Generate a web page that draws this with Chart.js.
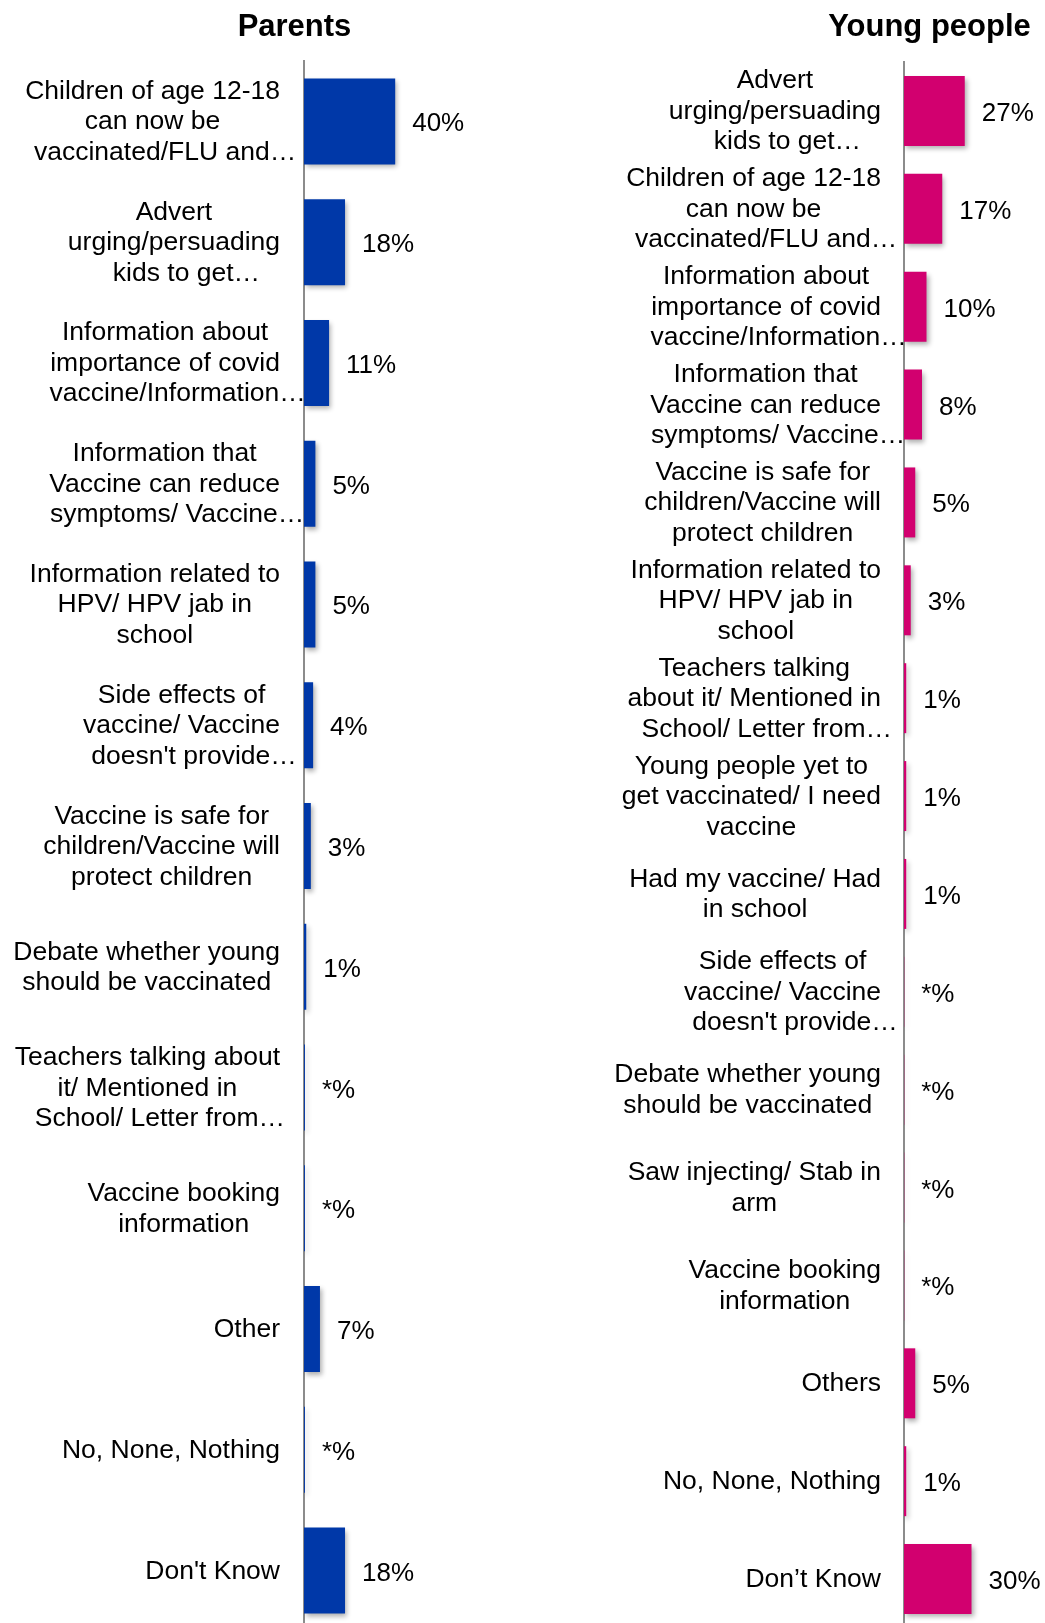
<!DOCTYPE html>
<html>
<head>
<meta charset="utf-8">
<title>Parents and young people</title>
<script src="https://cdn.jsdelivr.net/npm/chart.js@4.4.1/dist/chart.umd.min.js"></script>
<style>
  html, body { margin: 0; padding: 0; background: #fff; overflow: hidden; width: 1045px; height: 1623px; }
  canvas { position: absolute; top: 0; }
  #parents { left: 0; }
  #young { left: 589px; }
</style>
</head>
<body>
<canvas id="parents" width="589" height="1631"></canvas>
<canvas id="young" width="456" height="1628"></canvas>
<script>
// ---- Parents ----
const parentCategories = [
  ["Children of age 12-18", "can now be", "vaccinated/FLU and…"],
  ["Advert", "urging/persuading", "kids to get…"],
  ["Information about", "importance of covid", "vaccine/Information…"],
  ["Information that", "Vaccine can reduce", "symptoms/ Vaccine…"],
  ["Information related to", "HPV/ HPV jab in", "school"],
  ["Side effects of", "vaccine/ Vaccine", "doesn't provide…"],
  ["Vaccine is safe for", "children/Vaccine will", "protect children"],
  ["Debate whether young", "should be vaccinated"],
  ["Teachers talking about", "it/ Mentioned in", "School/ Letter from…"],
  ["Vaccine booking", "information"],
  ["Other"],
  ["No, None, Nothing"],
  ["Don't Know"]
];
const parentValues = [40, 18, 11, 5, 5, 4, 3, 1, 0.4, 0.4, 7, 0.4, 18];
const parentValueLabels = ["40%", "18%", "11%", "5%", "5%", "4%", "3%", "1%", "*%", "*%", "7%", "*%", "18%"];

// ---- Young people ----
const youngCategories = [
  ["Advert", "urging/persuading", "kids to get…"],
  ["Children of age 12-18", "can now be", "vaccinated/FLU and…"],
  ["Information about", "importance of covid", "vaccine/Information…"],
  ["Information that", "Vaccine can reduce", "symptoms/ Vaccine…"],
  ["Vaccine is safe for", "children/Vaccine will", "protect children"],
  ["Information related to", "HPV/ HPV jab in", "school"],
  ["Teachers talking", "about it/ Mentioned in", "School/ Letter from…"],
  ["Young people yet to", "get vaccinated/ I need", "vaccine"],
  ["Had my vaccine/ Had", "in school"],
  ["Side effects of", "vaccine/ Vaccine", "doesn't provide…"],
  ["Debate whether young", "should be vaccinated"],
  ["Saw injecting/ Stab in", "arm"],
  ["Vaccine booking", "information"],
  ["Others"],
  ["No, None, Nothing"],
  ["Don’t Know"]
];
const youngValues = [27, 17, 10, 8, 5, 3, 1, 1, 1, 0.1, 0.1, 0.1, 0.1, 5, 1, 30];
const youngValueLabels = ["27%", "17%", "10%", "8%", "5%", "3%", "1%", "1%", "1%", "*%", "*%", "*%", "*%", "5%", "1%", "30%"];

const FONT = '"Liberation Sans", Arial, Helvetica, sans-serif';

// Soft drop shadow behind the bars
const barShadow = {
  id: 'barShadow',
  beforeDatasetsDraw(chart) {
    const c = chart.ctx;
    c.save();
    c.shadowColor = 'rgba(0,0,0,0.32)';
    c.shadowBlur = 5;
    c.shadowOffsetX = 2;
    c.shadowOffsetY = 3;
  },
  afterDatasetsDraw(chart) {
    chart.ctx.restore();
  }
};

// Panel heading, wrapped category labels (centred lines, block set against the axis) and value labels
const panelText = {
  id: 'panelText',
  afterDraw(chart, args, opts) {
    const ctx = chart.ctx;
    const meta = chart.getDatasetMeta(0);
    const area = chart.chartArea;
    ctx.save();
    ctx.fillStyle = '#000';
    ctx.textBaseline = 'alphabetic';

    ctx.font = 'bold 31px ' + FONT;
    ctx.textAlign = 'center';
    ctx.fillText(opts.title, opts.titleX, opts.titleBaseline);

    ctx.font = '26.5px ' + FONT;
    const right = area.left - opts.labelGap;
    opts.categories.forEach((lines, i) => {
      const yc = meta.data[i].y;
      const full = lines.filter(l => !l.endsWith('…'));
      const widths = (full.length ? full : lines).map(l => ctx.measureText(l).width);
      const cx = right - Math.max(...widths) / 2;
      lines.forEach((l, j) => {
        const x = cx + (l.endsWith('…') ? opts.ellipsisShift : 0);
        const y = yc + 8 + (j - (lines.length - 1) / 2) * 30.5;
        ctx.fillText(l, x, y);
      });
    });

    ctx.font = '26px ' + FONT;
    ctx.textAlign = 'left';
    meta.data.forEach((bar, i) => {
      ctx.fillText(opts.valueLabels[i], bar.x + 17, bar.y + 10);
    });
    ctx.restore();
  }
};

function makePanel(id, cfg) {
  return new Chart(document.getElementById(id), {
    type: 'bar',
    data: {
      labels: cfg.categories.map(l => l.join(' ')),
      datasets: [{
        data: cfg.values,
        backgroundColor: cfg.color,
        borderWidth: 0,
        barPercentage: cfg.barPercentage,
        categoryPercentage: 1
      }]
    },
    plugins: [barShadow, panelText],
    options: {
      indexAxis: 'y',
      responsive: false,
      animation: false,
      events: [],
      layout: { padding: { top: cfg.padTop, right: cfg.padRight, left: 0, bottom: 0 } },
      plugins: {
        legend: { display: false },
        tooltip: { enabled: false },
        title: { display: false },
        panelText: {
          title: cfg.title,
          titleX: cfg.titleX,
          titleBaseline: 36,
          categories: cfg.categories,
          valueLabels: cfg.valueLabels,
          labelGap: cfg.labelGap,
          ellipsisShift: 12.5
        }
      },
      scales: {
        x: { display: false, min: 0, max: cfg.xMax },
        y: {
          display: true,
          ticks: { display: false },
          grid: { display: false },
          border: { display: true, color: '#8c8c8c', width: 2 },
          afterFit(scale) { scale.width = cfg.axisLeft; }
        }
      }
    }
  });
}

makePanel('parents', {
  title: 'Parents',
  titleX: 294.5,
  categories: parentCategories,
  values: parentValues,
  valueLabels: parentValueLabels,
  color: '#0038A8',
  barPercentage: 0.712,
  padTop: 61,
  padRight: 57,
  axisLeft: 304,
  xMax: 100,
  labelGap: 24
});

makePanel('young', {
  title: 'Young people',
  titleX: 340.5,
  categories: youngCategories,
  values: youngValues,
  valueLabels: youngValueLabels,
  color: '#D2006F',
  barPercentage: 0.715,
  padTop: 62,
  padRight: 6,
  axisLeft: 315,
  xMax: 60,
  labelGap: 23
});
</script>
</body>
</html>
